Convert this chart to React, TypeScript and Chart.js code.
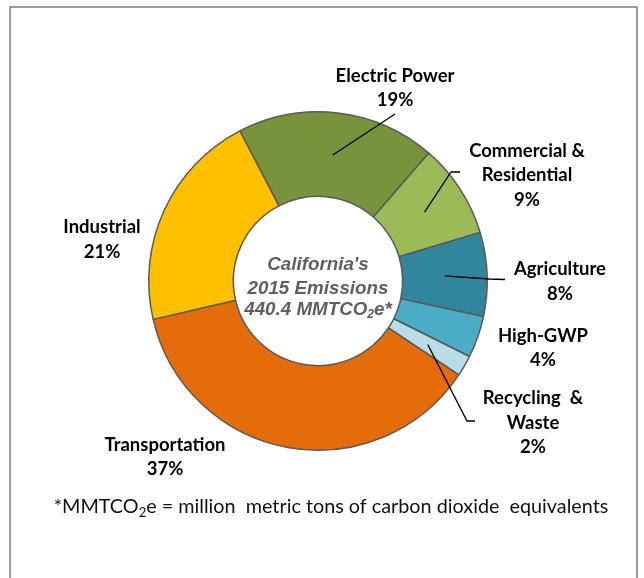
import React, { useEffect, useRef } from "react";
import { Chart, registerables } from "chart.js";

Chart.register(...registerables);

// California 2015 GHG emissions by sector (percent of total)
const sectors = [
  "Electric Power",
  "Commercial & Residential",
  "Agriculture",
  "High-GWP",
  "Recycling & Waste",
  "Transportation",
  "Industrial",
];
const shares = [19, 9, 8, 4, 2, 37, 21];
const sectorColors = ["#77933C", "#9BBB59", "#31859C", "#4BACC6", "#B7DEE8", "#E46C0A", "#FFC000"];

// How each sector name is broken over lines in its callout
const calloutNames = [
  ["Electric Power"],
  ["Commercial &", "Residential"],
  ["Agriculture"],
  ["High-GWP"],
  ["Recycling  &", "Waste"],
  ["Transportation"],
  ["Industrial"],
];

const centerTitle = ["California's", "2015 Emissions"];
const totalValue = "440.4";
const footnoteText = " = million  metric tons of carbon dioxide  equivalents";

// Callout placement: text centre x, first line middle y, and leader elbow points
const calloutLayout = [
  { x: 395, y: 76, leader: [[395, 114]] },
  { x: 527, y: 151, leader: [[451, 172], [460, 172]] },
  { x: 560, y: 269.5, leader: [[489, 279], [505, 279.5]] },
  { x: 543, y: 336, leader: [] as number[][] },
  { x: 533, y: 398.5, leader: [[467, 421], [475, 421]] },
  { x: 165, y: 445, leader: [] as number[][] },
  { x: 102, y: 227.5, leader: [] as number[][] },
];

type Part = { t: string; sub?: boolean };

function drawParts(
  ctx: CanvasRenderingContext2D,
  parts: Part[],
  cx: number,
  cy: number,
  font: (size: number) => string,
  size: number
) {
  const subSize = Math.round(size * 0.65);
  let total = 0;
  const widths = parts.map((p) => {
    ctx.font = font(p.sub ? subSize : size);
    const w = ctx.measureText(p.t).width;
    total += w;
    return w;
  });
  let x = cx - total / 2;
  ctx.textAlign = "left";
  ctx.textBaseline = "middle";
  parts.forEach((p, i) => {
    ctx.font = font(p.sub ? subSize : size);
    ctx.fillText(p.t, x, p.sub ? cy + size * 0.3 : cy);
    x += widths[i];
  });
}

const annotations = {
  id: "annotations",
  afterDraw(chart: Chart) {
    const ctx = chart.ctx;
    const meta = chart.getDatasetMeta(0);
    ctx.save();

    // outer frame
    ctx.strokeStyle = "#7a7a7a";
    ctx.lineWidth = 1.5;
    ctx.strokeRect(10, 7, 627, 620);

    // leader lines from the middle of each segment
    ctx.strokeStyle = "#000";
    ctx.lineWidth = 1.3;
    calloutLayout.forEach((c, i) => {
      if (!c.leader.length) return;
      const arc: any = meta.data[i];
      const p = arc.tooltipPosition(false);
      ctx.beginPath();
      ctx.moveTo(p.x, p.y);
      c.leader.forEach(([x, y]) => ctx.lineTo(x, y));
      ctx.stroke();
    });

    // callout text
    ctx.fillStyle = "#000";
    ctx.textAlign = "center";
    ctx.textBaseline = "middle";
    ctx.font = "bold 18.5px Lato";
    calloutLayout.forEach((c, i) => {
      const lines = [...calloutNames[i], `${shares[i]}%`];
      lines.forEach((ln, k) => ctx.fillText(ln, c.x, c.y + k * 24.5));
    });

    // hole caption
    const arc0: any = meta.data[0];
    const cx = arc0.x;
    const cy = arc0.y;
    ctx.fillStyle = "#5F5F5F";
    const italic = (s: number) => `italic bold ${s}px "Liberation Sans"`;
    ctx.font = italic(18.8);
    ctx.textAlign = "center";
    ctx.fillText(centerTitle[0], cx, cy - 16);
    ctx.fillText(centerTitle[1], cx, cy + 7.5);
    drawParts(ctx, [{ t: `${totalValue} MMTCO` }, { t: "2", sub: true }, { t: "e*" }], cx, cy + 28.5, italic, 18.8);

    // footnote
    ctx.fillStyle = "#111";
    drawParts(
      ctx,
      [{ t: "*MMTCO" }, { t: "2", sub: true }, { t: "e" + footnoteText }],
      331,
      507,
      (s) => `${s}px Lato`,
      19.8
    );

    ctx.restore();
  },
};

export default function App() {
  const ref = useRef<HTMLCanvasElement>(null);

  useEffect(() => {
    if (!ref.current) return;
    const chart = new Chart(ref.current, {
      type: "doughnut",
      data: {
        labels: sectors,
        datasets: [
          {
            data: shares,
            backgroundColor: sectorColors,
            borderColor: "#5a5a5a",
            borderWidth: 1.5,
          },
        ],
      },
      options: {
        animation: false,
        responsive: false,
        cutout: "50%",
        rotation: -27.5,
        layout: { padding: { left: 148, right: 156, top: 111, bottom: 127 } },
        plugins: {
          legend: { display: false },
          tooltip: { enabled: false },
        },
      },
      plugins: [annotations],
    });
    return () => chart.destroy();
  }, []);

  return (
    <div style={{ position: "absolute", left: 0, top: 0, width: 644, height: 578, background: "#fff" }}>
      <canvas ref={ref} width={644} height={578} style={{ display: "block" }} />
    </div>
  );
}
